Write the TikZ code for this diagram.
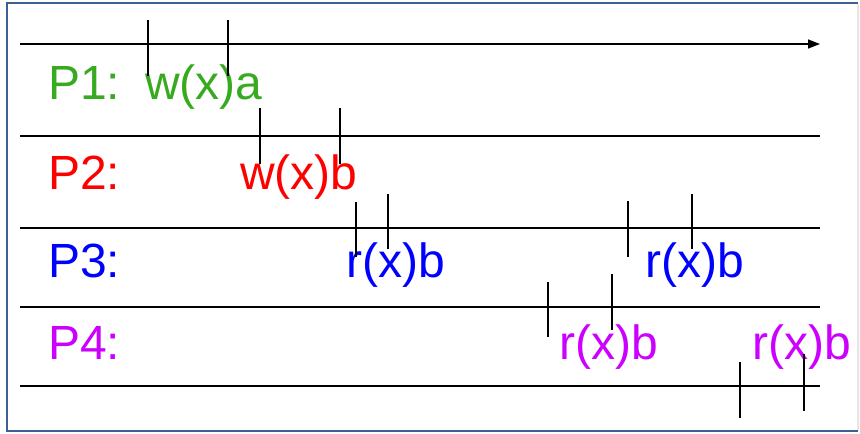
\documentclass[tikz,border=0pt]{standalone}
\usepackage{fontspec}
\setmainfont{Liberation Sans}
\usetikzlibrary{arrows.meta}
\definecolor{pgreen}{RGB}{56,170,32}
\definecolor{pred}{RGB}{255,0,0}
\definecolor{pblue}{RGB}{0,0,255}
\definecolor{pmagenta}{RGB}{204,0,255}
\definecolor{framecol}{RGB}{60,96,146}

\begin{document}
\begin{tikzpicture}[x=1pt,y=-1pt,
  lbl/.style={inner sep=0pt,anchor=base west,font=\fontsize{48}{52}\selectfont},
  timeline/.style={line width=1.6pt}]
  \useasboundingbox (0,0) rectangle (860,434);
  % frame
  \draw[framecol,line width=2pt] (858,431) -- (7,431) -- (7,3) -- (858,3);
  \draw[gray!20,line width=1.5pt] (858,4) -- (858,430);
  % time axis and separators
  \coordinate (a0) at (20,44);  \coordinate (a1) at (820,44);
  \draw[timeline,-{Triangle[length=12pt,width=9pt]}] (a0) -- (a1);
  \foreach \i/\y in {1/136, 2/228, 3/307, 4/386} {
    \coordinate (s\i l) at (20,\y);
    \coordinate (s\i r) at (820,\y);
    \draw[timeline] (s\i l) -- (s\i r);
  }
  % process labels
  \node[lbl,pgreen]   (p1) at (48,99)  {P1:};
  \node[lbl,pred]     (p2) at (48,189) {P2:};
  \node[lbl,pblue]    (p3) at (48,277) {P3:};
  \node[lbl,pmagenta] (p4) at (48,359) {P4:};
  % operations
  \node[lbl,pgreen]   (wa)  at (145,99)  {w(x)a};
  \node[lbl,pred]     (wb)  at (240,189) {w(x)b};
  \node[lbl,pblue]    (r3a) at (346,277) {r(x)b};
  \node[lbl,pblue]    (r3b) at (645,277) {r(x)b};
  \node[lbl,pmagenta] (r4a) at (559,359) {r(x)b};
  \node[lbl,pmagenta] (r4b) at (752,359) {r(x)b};
  % start/end ticks: x/top/bottom
  \foreach \x/\t/\b in {148/20/76, 228/20/76,
    260/108/164, 340/108/164,
    356/202/257, 388/194/249,
    628/201/257, 692/194/249,
    548/282/337, 612/274/330,
    740/362/418, 804/354/411} {
    \draw[line width=1.6pt] (\x,\t) -- (\x,\b);
  }
\end{tikzpicture}
\end{document}
